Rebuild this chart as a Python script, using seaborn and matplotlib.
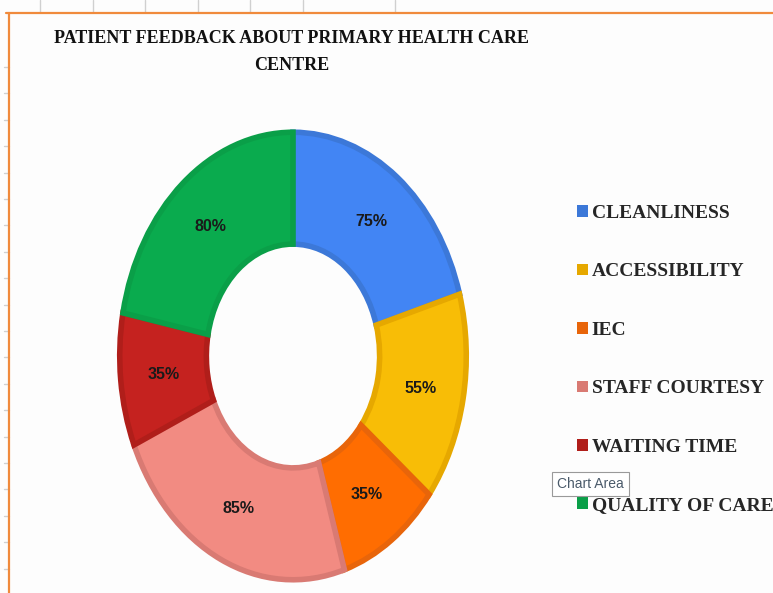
import matplotlib
matplotlib.use("Agg")
import matplotlib.pyplot as plt
from matplotlib.patches import Patch
from matplotlib.lines import Line2D
import seaborn as sns

# Data
categories = ["CLEANLINESS", "ACCESSIBILITY", "IEC", "STAFF COURTESY", "WAITING TIME", "QUALITY OF CARE"]
values = [75, 55, 35, 85, 35, 80]
face_colors = ["#4285F4", "#F8BD06", "#FF6D01", "#F28B82", "#C5221F", "#0AAB4E"]
edge_colors = ["#3C78D8", "#E6A800", "#E8650A", "#D97A73", "#B01E1A", "#0A9F48"]

sns.set_theme(style="white")
plt.rcParams["font.family"] = ["Liberation Serif", "DejaVu Serif"]

W, H = 773, 593
fig = plt.figure(figsize=(W / 100, H / 100), dpi=100)
fig.patch.set_facecolor("#FDFDFD")

# donut axes (the screenshot is squeezed sideways, so the ring is an ellipse)
ax = fig.add_axes([118 / W, 11 / H, 350 / W, 452 / H])
total = sum(values)
wedges, texts, autotexts = ax.pie(
    values,
    colors=face_colors,
    startangle=90,
    counterclock=False,
    autopct=lambda p: f"{p * total / 100:.0f}%",
    pctdistance=0.75,
    wedgeprops=dict(width=0.5, linewidth=4),
    textprops=dict(fontsize=11.5, color="#1a1a1a", fontweight="bold",
                   family=["Liberation Sans Narrow", "Liberation Sans", "DejaVu Sans"]),
)
for w, ec in zip(wedges, edge_colors):
    w.set_edgecolor(ec)
ax.set_aspect("auto")
ax.set_xlim(-1.01, 1.01)
ax.set_ylim(-1.01, 1.01)

# title
fig.text(292 / W, 1 - 30 / H, "PATIENT FEEDBACK ABOUT PRIMARY HEALTH CARE\nCENTRE",
         ha="center", va="top", multialignment="center", fontsize=13,
         fontweight="bold", color="#111111", linespacing=1.75)

# legend
handles = [Patch(facecolor=c, edgecolor="none") for c in edge_colors]
fig.legend(handles, categories, loc="upper left",
           bbox_to_anchor=(577 / W, 1 - 205 / H), frameon=False,
           prop=dict(family="Liberation Serif", weight="bold", size=14),
           labelspacing=2.13, handlelength=0.55, handleheight=0.55,
           handletextpad=0.2, borderpad=0, borderaxespad=0)

# screenshot decorations: sheet grid ticks, orange selection frame, tooltip
grey = "#D0D0D0"
for x in [40, 93, 145, 198, 250, 303, 395]:
    fig.add_artist(Line2D([x / W, x / W], [1, 1 - 12 / H], color=grey, lw=1))
for i in range(20):
    y = 67 + i * 26.4
    fig.add_artist(Line2D([4 / W, 9 / W], [1 - y / H, 1 - y / H], color=grey, lw=1))
orange = "#F08A3C"
fig.add_artist(Line2D([6 / W, 1], [1 - 13 / H, 1 - 13 / H], color=orange, lw=1.6))
fig.add_artist(Line2D([9 / W, 9 / W], [1 - 13 / H, 0], color=orange, lw=1.6))

fig.text(557 / W, 1 - 484 / H, "Chart Area", ha="left", va="center", fontsize=10,
         color="#4a5a6a", family=["Liberation Sans", "DejaVu Sans"], zorder=10,
         bbox=dict(boxstyle="square,pad=0.35", facecolor="white", edgecolor="#9a9a9a", lw=0.8))

fig.savefig("out.png", dpi=100, facecolor=fig.get_facecolor())
